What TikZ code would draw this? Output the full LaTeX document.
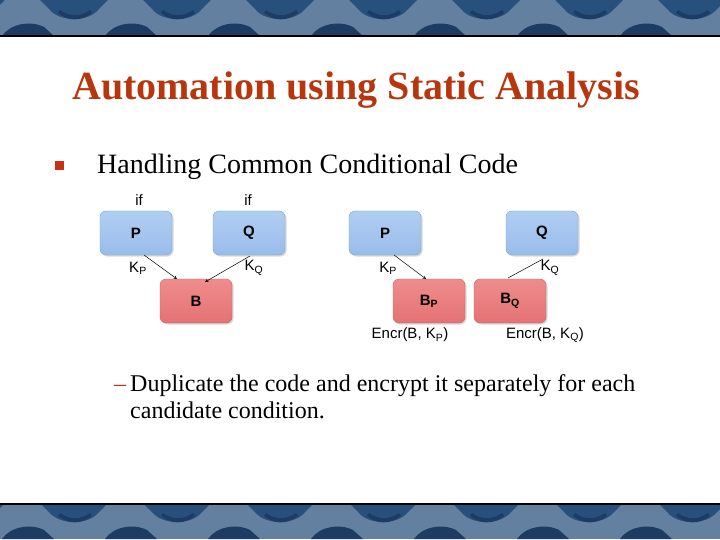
\documentclass[tikz,border=0pt]{standalone}
\usepackage{fontspec}
\setmainfont{Liberation Serif}
\newfontfamily\arialf{Liberation Sans}
\usetikzlibrary{shadows}
\definecolor{titlered}{RGB}{184,54,14}
\definecolor{bulletred}{RGB}{200,50,20}
\definecolor{bandbase}{RGB}{100,128,160}
\definecolor{banddark}{RGB}{40,80,124}
\definecolor{banddeep}{RGB}{28,60,100}
\definecolor{boxblue}{RGB}{152,188,234}
\definecolor{boxbluet}{RGB}{176,206,242}
\definecolor{boxblueb}{RGB}{130,160,200}
\definecolor{boxred}{RGB}{228,114,116}
\definecolor{boxredt}{RGB}{240,140,140}
\definecolor{boxredb}{RGB}{200,100,100}
\tikzset{
  bluebox/.style={draw=boxblueb, top color=boxbluet, bottom color=boxblue, rounded corners=6pt, minimum width=72pt, minimum height=44pt, inner sep=0pt, drop shadow={shadow xshift=1.5pt, shadow yshift=-1.5pt, opacity=0.3}, font=\arialf\bfseries\fontsize{15}{17}\selectfont},
  redbox/.style={draw=boxredb, top color=boxredt, bottom color=boxred, rounded corners=6pt, minimum width=72pt, minimum height=44pt, inner sep=0pt, drop shadow={shadow xshift=1.5pt, shadow yshift=-1.5pt, opacity=0.3}, font=\arialf\bfseries\fontsize{15}{17}\selectfont},
  lbl/.style={font=\arialf\fontsize{15}{17}\selectfont, inner sep=0pt},
  conn/.style={draw=black, line width=0.5pt, -stealth},
  plainconn/.style={draw=black, line width=0.5pt},
}
\begin{document}
\begin{tikzpicture}[x=1pt,y=-1pt]
\useasboundingbox (0,0) rectangle (720,540);
\fill[white] (0,0) rectangle (720,540);
% banners
\foreach \yy in {0,503} {
  \begin{scope}[shift={(0,\yy)}]
    \fill[bandbase] (0,0) rectangle (720,36);
    \clip (0,0) rectangle (720,36);
    \foreach \k in {-1,...,7} {
      \begin{scope}[shift={(\k*103,0)}]
        \fill[banddark] (40,0) -- (108,0) -- (98,10) .. controls (88,22) and (60,22) .. (50,10) -- cycle;
        \fill[banddeep] (2,36) .. controls (10,24) and (30,20) .. (44,27) -- (54,36) -- cycle;
        \fill[banddeep] (60,10) .. controls (70,17) and (80,17) .. (90,10) -- (92,13) .. controls (80,22) and (68,21) .. (58,13) -- cycle;
      \end{scope}
    }
  \end{scope}
}
\fill[black] (0,35) rectangle (720,37);
\fill[black] (0,503) rectangle (720,505);
% title
\node[anchor=base west, inner sep=0pt, text=titlered, font=\bfseries\fontsize{40}{46}\selectfont] (title) at (72,100) {Automation using Static Analysis};
% bullet
\node[fill=bulletred, minimum size=9pt, inner sep=0pt] (bul) at (59.5,166) {};
\node[anchor=base west, inner sep=0pt, font=\fontsize{28}{32}\selectfont] (b1) at (97,174) {Handling Common Conditional Code};
\node[anchor=base west, inner sep=0pt, text=titlered, font=\fontsize{24}{28}\selectfont] (dash) at (114,391) {--};
\node[anchor=base west, inner sep=0pt, font=\fontsize{24}{28}\selectfont] (s1) at (130,391) {Duplicate the code and encrypt it separately for each};
\node[anchor=base west, inner sep=0pt, font=\fontsize{24}{28}\selectfont] (s2) at (130,418) {candidate condition.};
% left diagram
\node[bluebox] (P1) at (136,233) {P};
\node[bluebox] (Q1) at (249,233) {Q};
\node[redbox] (B1) at (196,301) {B};
\node[lbl] (if1) at (139,200) {if};
\node[lbl] (if2) at (248,200) {if};
\node[lbl] (kp1) at (138,268) {K\textsubscript{P}};
\node[lbl] (kq1) at (254,268) {K\textsubscript{Q}};
\coordinate (p1s) at (144,255);
\coordinate (b1a) at (177,279);
\coordinate (q1s) at (250,256);
\coordinate (b1b) at (205,282);
\draw[conn] (p1s) -- (b1a);
\draw[conn] (q1s) -- (b1b);
% right diagram
\node[bluebox] (P2) at (385,233) {P};
\node[bluebox] (Q2) at (542,233) {Q};
\node[redbox] (BP) at (429,301) {B\textsubscript{P}};
\node[redbox] (BQ) at (510,301) {B\textsubscript{Q}};
\node[lbl] (kp2) at (388,268) {K\textsubscript{P}};
\node[lbl] (kq2) at (550,268) {K\textsubscript{Q}};
\node[lbl] (e1) at (410,335) {Encr(B, K\textsubscript{P})};
\node[lbl] (e2) at (545,335) {Encr(B, K\textsubscript{Q})};
\coordinate (p2s) at (394,255);
\coordinate (bpa) at (426,279);
\coordinate (q2s) at (543,259);
\coordinate (bqa) at (508,278);
\draw[conn] (p2s) -- (bpa);
\draw[plainconn] (q2s) -- (bqa);
\end{tikzpicture}
\end{document}
